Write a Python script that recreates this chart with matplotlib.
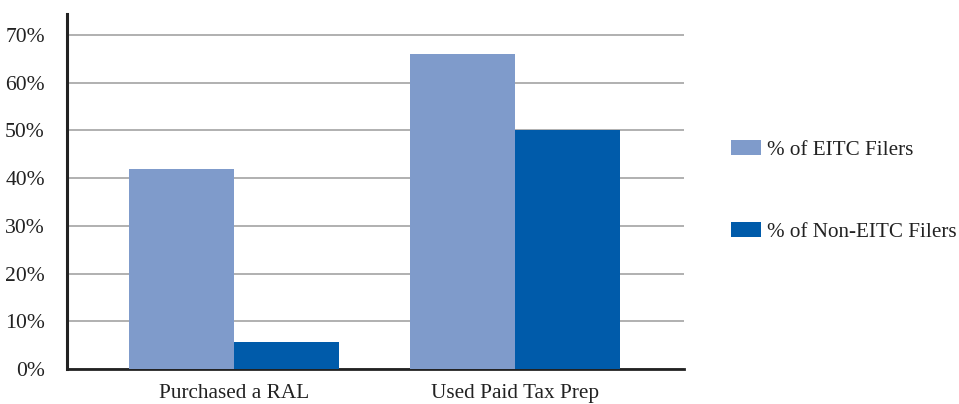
import numpy as np
import matplotlib
matplotlib.use('Agg')
import matplotlib.pyplot as plt

# Data
categories = ['Purchased a RAL', 'Used Paid Tax Prep']
eitc = [42, 66]
non_eitc = [5.7, 50]
series_labels = ['% of EITC Filers', '% of Non-EITC Filers']
yticks = [0, 10, 20, 30, 40, 50, 60, 70]

COLORS = ['#7F9BCB', '#005BAA']

plt.rcParams['font.family'] = 'Liberation Serif'

fig = plt.figure(figsize=(9.59, 4.04), dpi=100)
ax = fig.add_axes([0.0699, 0.0866, 0.6433, 0.8787])

x = np.arange(len(categories))
w = 0.375
ax.bar(x - w / 2, eitc, width=w, color=COLORS[0], label=series_labels[0], zorder=3)
ax.bar(x + w / 2, non_eitc, width=w, color=COLORS[1], label=series_labels[1], zorder=3)

ax.set_xlim(-0.594, 1.601)
ax.set_ylim(0, 74.4)
ax.set_yticks(yticks)
ax.set_yticklabels([f'{t}%' for t in yticks], fontsize=15.6, color='#222222')
ax.set_xticks(x)
ax.set_xticklabels(categories, fontsize=15.3, color='#222222')
ax.tick_params(axis='y', length=0, pad=16)
ax.tick_params(axis='x', length=0, pad=11)

ax.yaxis.grid(True, color='#AAAAAA', linewidth=1.3, zorder=0)
ax.set_axisbelow(True)

for s in ['top', 'right']:
    ax.spines[s].set_visible(False)
ax.spines['left'].set_linewidth(2.2)
ax.spines['left'].set_color('#222222')
ax.spines['bottom'].set_linewidth(2.0)
ax.spines['bottom'].set_color('#222222')

fig.legend(loc='center left', bbox_to_anchor=(0.7426, 0.528), frameon=False,
           fontsize=15.2, labelspacing=2.95, handlelength=1.41, handleheight=0.7,
           handletextpad=0.28, labelcolor='#222222')

plt.savefig('out.png', dpi=100)
plt.close()
